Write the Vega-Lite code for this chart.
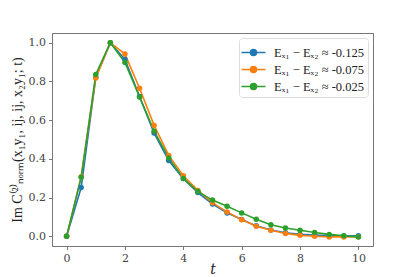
{
  "$schema": "https://vega.github.io/schema/vega-lite/v6.json",
  "width": 321,
  "height": 213,
  "autosize": {"type": "none"},
  "padding": {"left": 52, "top": 33, "right": 42, "bottom": 31},
  "background": "white",
  "config": {
    "view": {"stroke": "#777777", "strokeWidth": 1},
    "font": "DejaVu Serif"
  },
  "data": {
    "values": [
      {"t": 0, "s": "-0.125", "v": 0.0},
      {"t": 0.5, "s": "-0.125", "v": 0.252},
      {"t": 1, "s": "-0.125", "v": 0.82},
      {"t": 1.5, "s": "-0.125", "v": 1.0},
      {"t": 2, "s": "-0.125", "v": 0.914},
      {"t": 2.5, "s": "-0.125", "v": 0.722},
      {"t": 3, "s": "-0.125", "v": 0.533},
      {"t": 3.5, "s": "-0.125", "v": 0.391},
      {"t": 4, "s": "-0.125", "v": 0.298},
      {"t": 4.5, "s": "-0.125", "v": 0.226},
      {"t": 5, "s": "-0.125", "v": 0.167},
      {"t": 5.5, "s": "-0.125", "v": 0.121},
      {"t": 6, "s": "-0.125", "v": 0.087},
      {"t": 6.5, "s": "-0.125", "v": 0.054},
      {"t": 7, "s": "-0.125", "v": 0.033},
      {"t": 7.5, "s": "-0.125", "v": 0.018},
      {"t": 8, "s": "-0.125", "v": 0.01},
      {"t": 8.5, "s": "-0.125", "v": 0.007},
      {"t": 9, "s": "-0.125", "v": 0.004},
      {"t": 9.5, "s": "-0.125", "v": 0.002},
      {"t": 10, "s": "-0.125", "v": 0.003},
      {"t": 0, "s": "-0.075", "v": 0.0},
      {"t": 0.5, "s": "-0.075", "v": 0.308},
      {"t": 1, "s": "-0.075", "v": 0.818},
      {"t": 1.5, "s": "-0.075", "v": 1.0},
      {"t": 2, "s": "-0.075", "v": 0.941},
      {"t": 2.5, "s": "-0.075", "v": 0.765},
      {"t": 3, "s": "-0.075", "v": 0.573},
      {"t": 3.5, "s": "-0.075", "v": 0.418},
      {"t": 4, "s": "-0.075", "v": 0.313},
      {"t": 4.5, "s": "-0.075", "v": 0.237},
      {"t": 5, "s": "-0.075", "v": 0.173},
      {"t": 5.5, "s": "-0.075", "v": 0.126},
      {"t": 6, "s": "-0.075", "v": 0.086},
      {"t": 6.5, "s": "-0.075", "v": 0.052},
      {"t": 7, "s": "-0.075", "v": 0.031},
      {"t": 7.5, "s": "-0.075", "v": 0.015},
      {"t": 8, "s": "-0.075", "v": 0.005},
      {"t": 8.5, "s": "-0.075", "v": 0.0},
      {"t": 9, "s": "-0.075", "v": -0.003},
      {"t": 9.5, "s": "-0.075", "v": -0.003},
      {"t": 10, "s": "-0.075", "v": -0.002},
      {"t": 0, "s": "-0.025", "v": 0.0},
      {"t": 0.5, "s": "-0.025", "v": 0.305},
      {"t": 1, "s": "-0.025", "v": 0.836},
      {"t": 1.5, "s": "-0.025", "v": 1.0},
      {"t": 2, "s": "-0.025", "v": 0.898},
      {"t": 2.5, "s": "-0.025", "v": 0.72},
      {"t": 3, "s": "-0.025", "v": 0.543},
      {"t": 3.5, "s": "-0.025", "v": 0.405},
      {"t": 4, "s": "-0.025", "v": 0.299},
      {"t": 4.5, "s": "-0.025", "v": 0.231},
      {"t": 5, "s": "-0.025", "v": 0.187},
      {"t": 5.5, "s": "-0.025", "v": 0.155},
      {"t": 6, "s": "-0.025", "v": 0.121},
      {"t": 6.5, "s": "-0.025", "v": 0.088},
      {"t": 7, "s": "-0.025", "v": 0.06},
      {"t": 7.5, "s": "-0.025", "v": 0.043},
      {"t": 8, "s": "-0.025", "v": 0.031},
      {"t": 8.5, "s": "-0.025", "v": 0.02},
      {"t": 9, "s": "-0.025", "v": 0.01},
      {"t": 9.5, "s": "-0.025", "v": 0.003},
      {"t": 10, "s": "-0.025", "v": -0.004}
    ]
  },
  "mark": {"type": "line", "strokeWidth": 1.6, "point": {"size": 30, "filled": true, "opacity": 1}},
  "encoding": {
    "x": {
      "field": "t", "type": "quantitative",
      "scale": {"domain": [-0.5, 10.5], "nice": false, "zero": false},
      "axis": {
        "values": [0, 2, 4, 6, 8, 10], "grid": false, "domain": false,
        "tickColor": "#777777", "tickSize": 3.5, "labelFontSize": 11, "labelColor": "#444444",
        "labelFont": "DejaVu Serif", "labelPadding": 3,
        "title": "t", "titleFont": "DejaVu Serif", "titleFontStyle": "italic", "titleFontWeight": "normal",
        "titleFontSize": 14, "titleColor": "#222222", "titlePadding": -1
      }
    },
    "y": {
      "field": "v", "type": "quantitative",
      "scale": {"domain": [-0.05, 1.05], "nice": false, "zero": false},
      "axis": {
        "values": [0, 0.2, 0.4, 0.6, 0.8, 1.0], "format": ".1f", "grid": false, "domain": false,
        "tickColor": "#777777", "tickSize": 3.5, "labelFontSize": 11, "labelColor": "#444444",
        "labelFont": "DejaVu Serif", "labelPadding": 3,
        "title": "Im C⁽²⁾ₙₒᵣₘ(x₁y₁, ij, ij, x₂y₁; t)", "titleFont": "Liberation Serif", "titleFontWeight": "normal",
        "titleFontSize": 14, "titleColor": "#222222", "titlePadding": 4
      }
    },
    "color": {
      "field": "s", "type": "nominal",
      "scale": {"domain": ["-0.125", "-0.075", "-0.025"], "range": ["#1f77b4", "#ff7f0e", "#2ca02c"]},
      "legend": {
        "title": null,
        "orient": "top-right",
        "offset": 5,
        "labelExpr": "'Eₓ₁ − Eₓ₂ ≈ ' + datum.label",
        "labelFont": "Liberation Serif", "labelFontSize": 12.5, "labelColor": "#222222",
        "symbolType": "M-1.3,0H1.3M-0.32,0A0.32,0.32 0 1 1 0.32,0A0.32,0.32 0 1 1 -0.32,0Z",
        "symbolSize": 340, "symbolStrokeWidth": 1.6,
        "rowPadding": 0, "labelOffset": 10,
        "padding": 4, "strokeColor": "#dddddd", "cornerRadius": 3, "fillColor": "white"
      }
    }
  }
}
